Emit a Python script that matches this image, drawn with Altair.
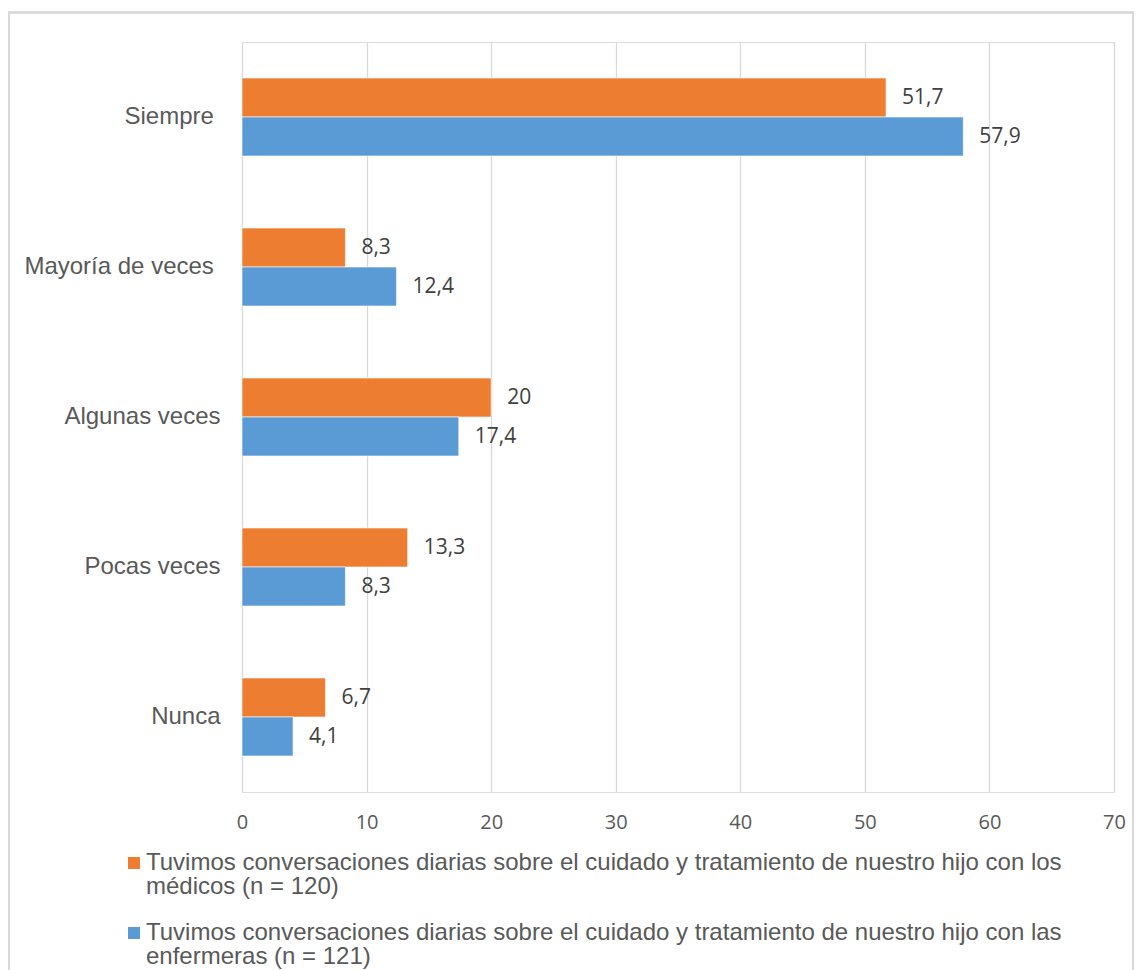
import altair as alt
import pandas as pd

categories = ["Siempre", "Mayoría de veces", "Algunas veces", "Pocas veces", "Nunca"]
series = [
    "Tuvimos conversaciones diarias sobre el cuidado y tratamiento de nuestro hijo con los|médicos (n = 120)",
    "Tuvimos conversaciones diarias sobre el cuidado y tratamiento de nuestro hijo con las|enfermeras (n = 121)",
]
medicos = [51.7, 8.3, 20, 13.3, 6.7]
enfermeras = [57.9, 12.4, 17.4, 8.3, 4.1]
colors = ["#ED7D31", "#5B9BD5"]
x_ticks = [0, 10, 20, 30, 40, 50, 60, 70]

rows = []
for s, vals in zip(series, [medicos, enfermeras]):
    for c, v in zip(categories, vals):
        rows.append({"cat": c, "series": s, "value": v,
                     "label": f"{v:g}".replace(".", ",")})
df = pd.DataFrame(rows)

ZW = "\u200b"
NB = "\u00a0"

base = alt.Chart(df).encode(
    y=alt.Y("cat:N", sort=categories, title=None,
            scale=alt.Scale(paddingInner=0.48, paddingOuter=0.24),
            axis=alt.Axis(labelFont="Liberation Sans", labelFontSize=24,
                          labelColor="#595959", labelPadding=22, ticks=False,
                          domain=False, grid=False, labelLimit=400,
                          labelExpr=f"(datum.label == 'Siempre' || datum.label == 'Mayoría de veces') ? datum.label + '{NB}{ZW}' : datum.label")),
    yOffset=alt.YOffset("series:N", sort=series,
                        scale=alt.Scale(paddingInner=0, paddingOuter=0)),
    x=alt.X("value:Q", title=None,
            scale=alt.Scale(domain=[0, 70], nice=False),
            axis=alt.Axis(values=x_ticks, labelFont="Open Sans", labelFontSize=20,
                          labelColor="#595959", labelPadding=20, ticks=False,
                          domain=False, grid=True, gridColor="#D9D9D9",
                          gridWidth=1.3, labelFlush=False)),
)

bars = base.mark_bar(stroke="white", strokeWidth=0.6).encode(
    color=alt.Color("series:N", sort=series,
                    scale=alt.Scale(domain=series, range=colors),
                    legend=alt.Legend(title=None, orient="none", legendX=-120,
                                      legendY=809, direction="vertical",
                                      padding=0,
                                      symbolType="square", symbolSize=144,
                                      symbolStrokeWidth=0, labelOffset=0,
                                      labelFont="Liberation Sans",
                                      labelFontSize=24, labelColor="#595959",
                                      labelLimit=1200, labelBaseline="middle",
                                      rowPadding=22,
                                      labelExpr="split(datum.label, '|')"))
)

texts = base.mark_text(align="left", baseline="middle", dx=16,
                       font="Open Sans", fontSize=21, color="#404040").encode(
    text="label:N"
)

frame = alt.Chart(df).mark_rect(fill=None, stroke="#D9D9D9", strokeWidth=1.5).encode(
    x=alt.value(-233), x2=alt.value(891), y=alt.value(-29.5), y2=alt.value(970)
)

chart = alt.layer(frame, bars, texts).properties(
    width=872, height=750,
    padding={"left": 234, "top": 34, "right": 20, "bottom": 178},
    autosize=alt.AutoSizeParams(type="none"),
).configure_view(stroke=None).configure(
    style={"guide-label": {"lineHeight": 24}}
)

chart.save("out.html", embed_options={"renderer": "svg", "actions": False})
